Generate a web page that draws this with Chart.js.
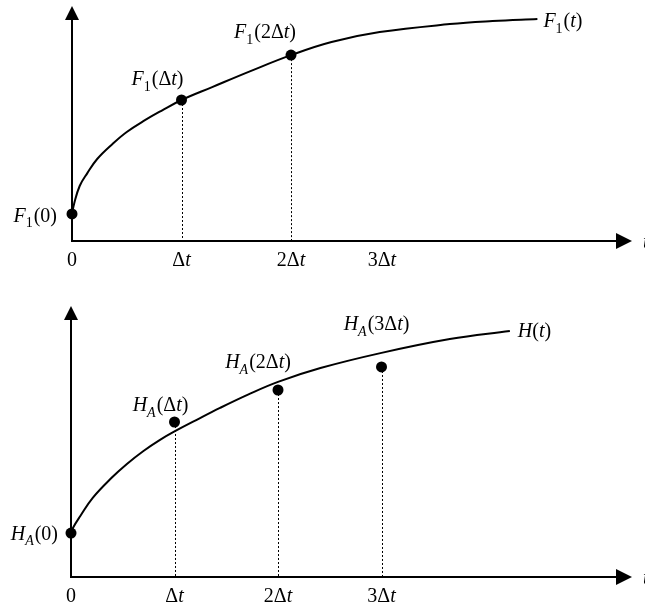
<!DOCTYPE html>
<html>
<head>
<meta charset="utf-8">
<script src="https://cdn.jsdelivr.net/npm/chart.js@4.4.1/dist/chart.umd.min.js"></script>
<style>
  body { margin: 0; background: #fff; }
  canvas { position: absolute; left: 0; }
  #chartF { top: 0; }
  #chartH { top: 290px; }
</style>
</head>
<body>
<canvas id="chartF" width="645" height="280"></canvas>
<canvas id="chartH" width="645" height="319"></canvas>
<script>
// Upper panel: continuous F1(t) and its samples at 0, Δt, 2Δt (t in units of Δt)
const fCurveT = [0, 0.02, 0.07, 0.14, 0.23, 0.37, 0.5, 0.67, 0.82, 1, 1.28, 1.63, 2, 2.37, 2.81, 3.45, 3.84, 4.25];
const fCurveV = [1.15, 1.6, 2.34, 2.89, 3.49, 4.13, 4.64, 5.15, 5.55, 6.0, 6.55, 7.23, 7.91, 8.47, 8.89, 9.23, 9.36, 9.45];
const fSampleT = [0, 1, 2];
const fSampleV = [1.15, 6.0, 7.91];
const fSampleLabels = ["*F*_1(0)", "*F*_1(Δ*t*)", "*F*_1(2Δ*t*)"];
const fCurveLabel = "*F*_1(*t*)";
const fTickT = [0, 1, 2, 2.83];

// Lower panel: H(t) and the approximations H_A at 0, Δt, 2Δt, 3Δt
const hCurveT = [0, 0.02, 0.09, 0.21, 0.39, 0.54, 0.7, 0.86, 1, 1.21, 1.44, 1.71, 2, 2.41, 3, 3.66, 4.24];
const hCurveV = [1.62, 1.82, 2.25, 2.92, 3.65, 4.17, 4.65, 5.06, 5.37, 5.79, 6.24, 6.73, 7.2, 7.71, 8.27, 8.78, 9.08];
const hSampleT = [0, 1, 2, 3];
const hSampleV = [1.62, 5.72, 6.9, 7.75];
const hSampleLabels = ["*H*_*A*(0)", "*H*_*A*(Δ*t*)", "*H*_*A*(2Δ*t*)", "*H*_*A*(3Δ*t*)"];
const hCurveLabel = "*H*(*t*)";
const hTickT = [0, 1, 2, 3];

const tickLabels = ["0", "Δ*t*", "2Δ*t*", "3Δ*t*"];

const FONT = '"Liberation Serif", "DejaVu Serif", serif';
const SIZE = 20;

// "*x*" = italic, "_c" = next char as subscript
function parseRich(str) {
  const out = [];
  let it = false, sub = false;
  for (const ch of str) {
    if (ch === "*") { it = !it; continue; }
    if (ch === "_") { sub = true; continue; }
    out.push({ ch, it, sub });
    sub = false;
  }
  return out;
}

function runFont(r) {
  const sz = r.sub ? SIZE * 0.7 : SIZE;
  return (r.it ? "italic " : "") + sz + "px " + FONT;
}

function richWidth(ctx, str) {
  let w = 0;
  for (const r of parseRich(str)) {
    ctx.font = runFont(r);
    w += ctx.measureText(r.ch).width + (r.sub ? 1 : 0);
  }
  return w;
}

// align: left | center | right ; vmid: draw centred on y instead of on baseline
function drawRich(ctx, str, x, y, align, vmid) {
  const w = richWidth(ctx, str);
  let cx = align === "center" ? x - w / 2 : align === "right" ? x - w : x;
  const base = vmid ? y + SIZE * 0.33 : y;
  ctx.fillStyle = "#000";
  ctx.textBaseline = "alphabetic";
  ctx.textAlign = "left";
  for (const r of parseRich(str)) {
    ctx.font = runFont(r);
    ctx.fillText(r.ch, cx, r.sub ? base + SIZE * 0.28 : base);
    cx += ctx.measureText(r.ch).width + (r.sub ? 1 : 0);
  }
}

// Arrowed axes, dotted drop lines, tick and point labels
const sketchAxes = {
  id: "sketchAxes",
  beforeDatasetsDraw(chart, args, opts) {
    const { ctx, chartArea: a, scales: { x, y } } = chart;
    const ox = x.getPixelForValue(0), oy = y.getPixelForValue(0);
    ctx.save();
    ctx.strokeStyle = "#000";

    // dotted verticals from each sample down to the t axis
    ctx.lineWidth = 1;
    ctx.setLineDash([2, 2]);
    chart.getDatasetMeta(1).data.forEach(pt => {
      if (Math.abs(pt.x - ox) < 1) return;
      ctx.beginPath();
      ctx.moveTo(Math.round(pt.x) + 0.5, pt.y);
      ctx.lineTo(Math.round(pt.x) + 0.5, oy);
      ctx.stroke();
    });
    ctx.setLineDash([]);

    // axes
    ctx.lineWidth = 2;
    ctx.beginPath();
    ctx.moveTo(ox, oy + 1);
    ctx.lineTo(ox, a.top + 12);
    ctx.moveTo(ox - 1, oy);
    ctx.lineTo(a.right - 14, oy);
    ctx.stroke();

    ctx.fillStyle = "#000";
    ctx.beginPath();
    ctx.moveTo(ox, a.top);
    ctx.lineTo(ox + 7, a.top + 14);
    ctx.lineTo(ox - 7, a.top + 14);
    ctx.closePath();
    ctx.fill();
    ctx.beginPath();
    ctx.moveTo(a.right, oy);
    ctx.lineTo(a.right - 16, oy - 8);
    ctx.lineTo(a.right - 16, oy + 8);
    ctx.closePath();
    ctx.fill();
    ctx.restore();
  },
  afterDatasetsDraw(chart, args, opts) {
    const { ctx, chartArea: a, scales: { x, y } } = chart;
    const oy = y.getPixelForValue(0);
    ctx.save();

    opts.ticks.forEach((t, i) => {
      drawRich(ctx, tickLabels[i], x.getPixelForValue(t), oy + 25, "center");
    });
    drawRich(ctx, "*t*", a.right + 11, oy, "left", true);

    chart.getDatasetMeta(1).data.forEach((pt, i) => {
      const o = opts.offsets[i];
      drawRich(ctx, opts.labels[i], pt.x + o[0], pt.y + o[1], o[2], o[3]);
    });

    const curve = chart.getDatasetMeta(0).data;
    const end = curve[curve.length - 1];
    drawRich(ctx, opts.curveLabel, end.x + opts.curveOffset[0], end.y + opts.curveOffset[1], "left");
    ctx.restore();
  }
};

function makeChart(id, curveT, curveV, sampleT, sampleV, cfg) {
  const curve = curveT.map((t, i) => ({ x: t, y: curveV[i] }));
  const samples = sampleT.map((t, i) => ({ x: t, y: sampleV[i] }));
  new Chart(document.getElementById(id).getContext("2d"), {
    type: "scatter",
    data: {
      datasets: [
        {
          data: curve,
          showLine: true,
          borderColor: "#000",
          borderWidth: 2,
          pointRadius: 0,
          tension: 0.4,
          clip: false
        },
        {
          data: samples,
          showLine: false,
          pointRadius: 5.5,
          pointBackgroundColor: "#000",
          pointBorderWidth: 0,
          clip: false
        }
      ]
    },
    options: {
      responsive: false,
      animation: false,
      events: [],
      layout: { padding: cfg.padding },
      plugins: {
        legend: { display: false },
        tooltip: { enabled: false },
        sketchAxes: cfg.axes
      },
      scales: {
        x: { type: "linear", display: false, min: 0, max: cfg.xMax },
        y: { type: "linear", display: false, min: 0, max: 10 }
      }
    },
    plugins: [sketchAxes]
  });
}

makeChart("chartF", fCurveT, fCurveV, fSampleT, fSampleV, {
  padding: { left: 72, right: 13, top: 6, bottom: 39 },
  xMax: 5.114,
  axes: {
    ticks: fTickT,
    labels: fSampleLabels,
    offsets: [[-15, 1, "right", true], [-24, -15, "center"], [-26, -17, "center"]],
    curveLabel: fCurveLabel,
    curveOffset: [6, 8]
  }
});

makeChart("chartH", hCurveT, hCurveV, hSampleT, hSampleV, {
  padding: { left: 71, right: 13, top: 16, bottom: 32 },
  xMax: 5.42,
  axes: {
    ticks: hTickT,
    labels: hSampleLabels,
    offsets: [[-13, 0, "right", true], [-14, -11, "center"], [-20, -22, "center"], [-5, -37, "center"]],
    curveLabel: hCurveLabel,
    curveOffset: [8, 6]
  }
});
</script>
</body>
</html>
